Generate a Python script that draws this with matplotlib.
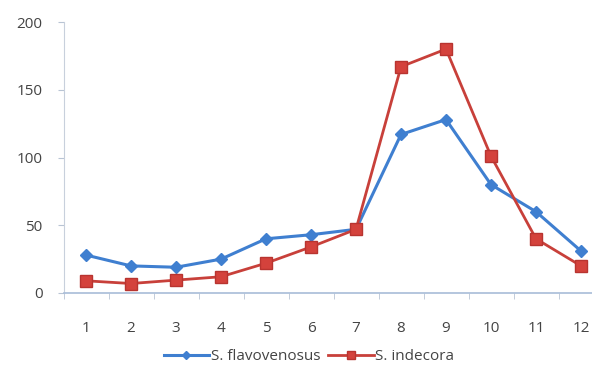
import matplotlib
matplotlib.use("Agg")
import matplotlib.pyplot as plt
from matplotlib.font_manager import FontProperties
import numpy as np

months = list(range(1, 13))
flavovenosus = [28, 20, 19, 25, 40, 43, 47, 117, 128, 80, 60, 31]
indecora = [9, 7, 9.5, 12, 22, 34, 47, 167, 180, 101, 40, 20]
yticks = [0, 50, 100, 150, 200]

plt.rcParams['font.family'] = ['Open Sans', 'DejaVu Sans']
fig = plt.figure(figsize=(5.92, 3.68), dpi=100)
ax = fig.add_axes([63.5/592, 1-293/368, (603.5-63.5)/592, (293-22)/368])

ax.plot(months, indecora, color='#c8403a', lw=2, marker='s', ms=9,
        markerfacecolor='#d4423c', markeredgecolor='#b83430', label='S. indecora', zorder=3)
ax.plot(months, flavovenosus, color='#3f7fd0', lw=2.2, marker='D', ms=6,
        markerfacecolor='#3f7fd0', markeredgecolor='#3f7fd0', label='S. flavovenosus', zorder=2)

ax.set_xlim(0.5, 12.5)
ax.set_ylim(0, 200)
ax.set_yticks(yticks)
ax.set_xticks(months)
ax.set_xticks(np.arange(0.5, 13, 1), minor=True)
ax.tick_params(axis='x', which='major', length=0, pad=20, labelsize=11, labelcolor='#444444')
ax.tick_params(axis='x', which='minor', length=4, color='#b8c4d4', direction='out')
ax.tick_params(axis='y', length=4, color='#b8c4d4', labelsize=11, labelcolor='#444444', pad=11)
for s in ['top', 'right']:
    ax.spines[s].set_visible(False)
ax.spines['left'].set_color('#c8d0dc')
ax.spines['bottom'].set_color('#a8bcd8')
ax.spines['bottom'].set_linewidth(1.2)

h, l = ax.get_legend_handles_labels()
leg = fig.legend([h[1], h[0]], [l[1], l[0]], loc='center', bbox_to_anchor=(309/592, 1-357/368),
                 ncol=2, frameon=False, prop=FontProperties(family=['Open Sans', 'DejaVu Sans'], size=11),
                 handlelength=3.0, columnspacing=0.5, handletextpad=0.1, markerscale=0.7)
for t in leg.get_texts():
    t.set_color('#444444')

fig.savefig('out.png', dpi=100)
